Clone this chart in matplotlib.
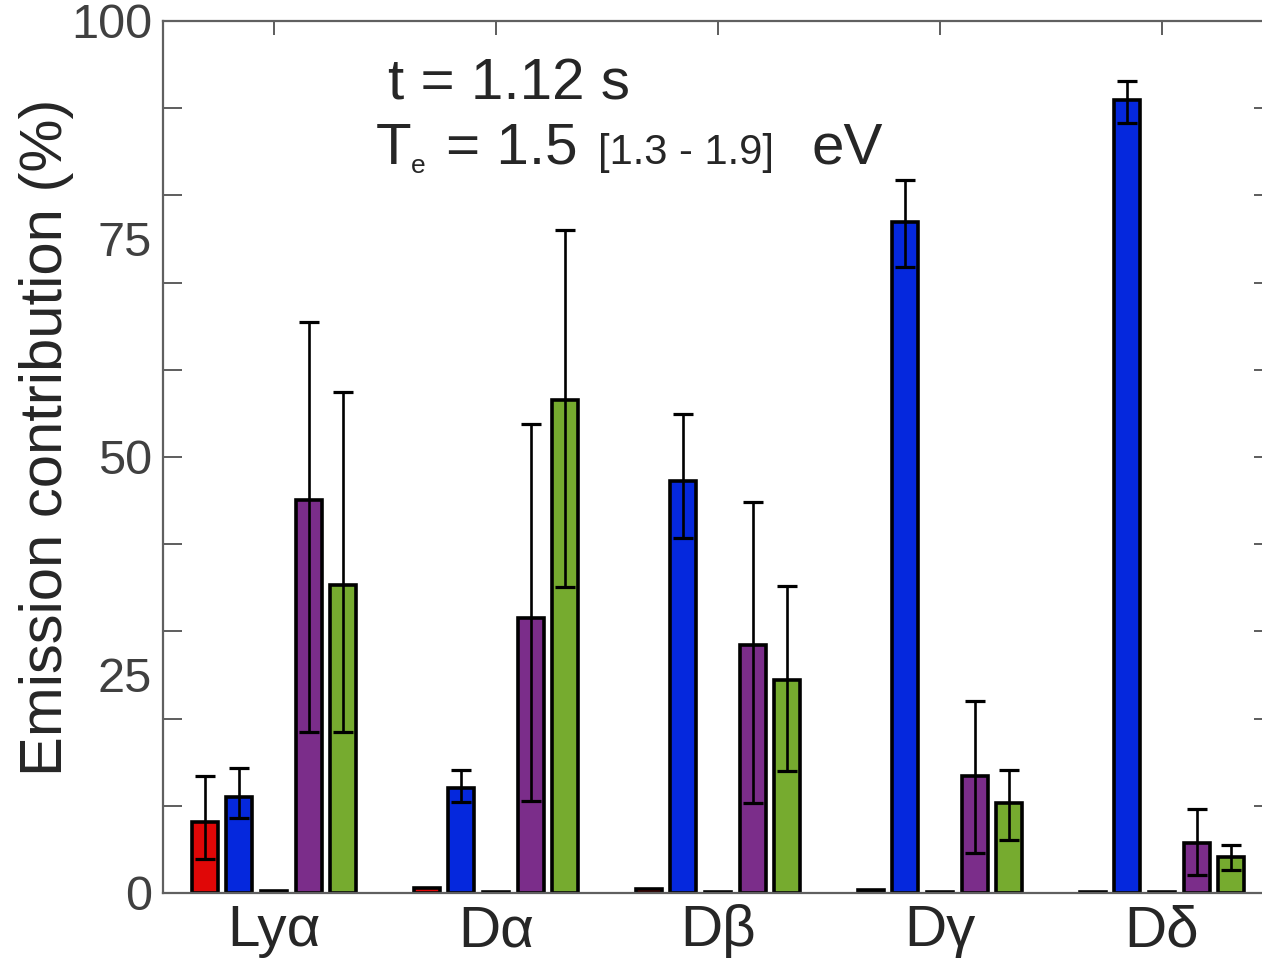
import numpy as np
import matplotlib
matplotlib.use("Agg")
import matplotlib.pyplot as plt
from matplotlib.ticker import FixedLocator

plt.rcParams['font.family'] = ['Liberation Sans', 'DejaVu Sans']

categories = ['Lyα', 'Dα', 'Dβ', 'Dγ', 'Dδ']

red_vals    = [8.1, 0.6, 0.45, 0.3, 0.15]
red_lo      = [3.9, np.nan, np.nan, np.nan, np.nan]
red_hi      = [13.4, np.nan, np.nan, np.nan, np.nan]

blue_vals   = [11.0, 12.0, 47.2, 76.9, 90.9]
blue_lo     = [8.6, 10.4, 40.7, 71.8, 88.3]
blue_hi     = [14.3, 14.1, 54.9, 81.8, 93.1]

dark_vals   = [0.25, 0.15, 0.15, 0.15, 0.15]

purple_vals = [45.1, 31.5, 28.4, 13.4, 5.7]
purple_lo   = [18.5, 10.6, 10.3, 4.6, 2.1]
purple_hi   = [65.5, 53.8, 44.8, 22.0, 9.6]

green_vals  = [35.3, 56.5, 24.4, 10.3, 4.1]
green_lo    = [18.5, 35.1, 14.0, 6.1, 2.6]
green_hi    = [57.5, 76.0, 35.2, 14.1, 5.5]

series = [
    (red_vals, red_lo, red_hi, '#E00707'),
    (blue_vals, blue_lo, blue_hi, '#0528DD'),
    (dark_vals, None, None, '#202020'),
    (purple_vals, purple_lo, purple_hi, '#7B2D8A'),
    (green_vals, green_lo, green_hi, '#76AB2F'),
]

W, H = 1262, 973
fig = plt.figure(figsize=(W / 100, H / 100), dpi=100)
ax = fig.add_axes([163 / W, 80 / H, 1110 / W, 872 / H])

x = np.arange(1, len(categories) + 1)
pitch = 0.156
bw = 0.118
for i, (vals, lo, hi, col) in enumerate(series):
    pos = x + (i - 2) * pitch
    vals = np.array(vals)
    ax.bar(pos, vals, width=bw, color=col, edgecolor='black', linewidth=2.6, zorder=2)
    if lo is not None:
        lo = np.array(lo, dtype=float)
        hi = np.array(hi, dtype=float)
        m = ~np.isnan(lo)
        yerr = np.vstack([vals[m] - lo[m], hi[m] - vals[m]])
        ax.errorbar(pos[m], vals[m], yerr=yerr, fmt='none', ecolor='black',
                    elinewidth=1.9, capsize=7.2, capthick=2.3, zorder=3)

ax.set_xlim(0.5, 5.5)
ax.set_ylim(0, 100)

# y axis: labelled positions (no tick marks) and tick marks every 10
ax.yaxis.set_major_locator(FixedLocator([0, 25, 50, 75, 100]))
ax.yaxis.set_minor_locator(FixedLocator(np.arange(0, 101, 10)))
ax.yaxis.remove_overlapping_locs = False
ax.tick_params(axis='y', which='major', length=0, labelsize=35, labelcolor='#404040', pad=8)
ax.tick_params(axis='y', which='minor', direction='in', length=14, width=1.3,
               color='#505050', left=True, right=True)

ax.set_xticks(x)
ax.set_xticklabels(categories)
ax.tick_params(axis='x', which='major', direction='in', length=10, width=1.3,
               color='#505050', top=True, bottom=False, labelsize=42,
               labelcolor='#262626', pad=8)

for s in ax.spines.values():
    s.set_color('#606060')
    s.set_linewidth(1.6)

ax.set_ylabel('Emission contribution (%)', fontsize=43, color='#262626')
ax.yaxis.label.set_va('center')
ax.yaxis.set_label_coords((47 - 163) / 1110, (893 - 437) / 872)

def ftxt(px, py, s, size):
    fig.text(px / W, 1 - py / H, s, fontsize=size, color='#262626',
             ha='left', va='baseline')

ftxt(388, 100, 't = 1.12 s', 42)
ftxt(376, 164, 'T', 42)
ftxt(411, 173, 'e', 19)
ftxt(446, 164, '= 1.5', 42)
ftxt(598, 164, '[1.3 - 1.9]', 30)
ftxt(811, 164, 'eV', 42)

fig.savefig('out.png', dpi=100)
